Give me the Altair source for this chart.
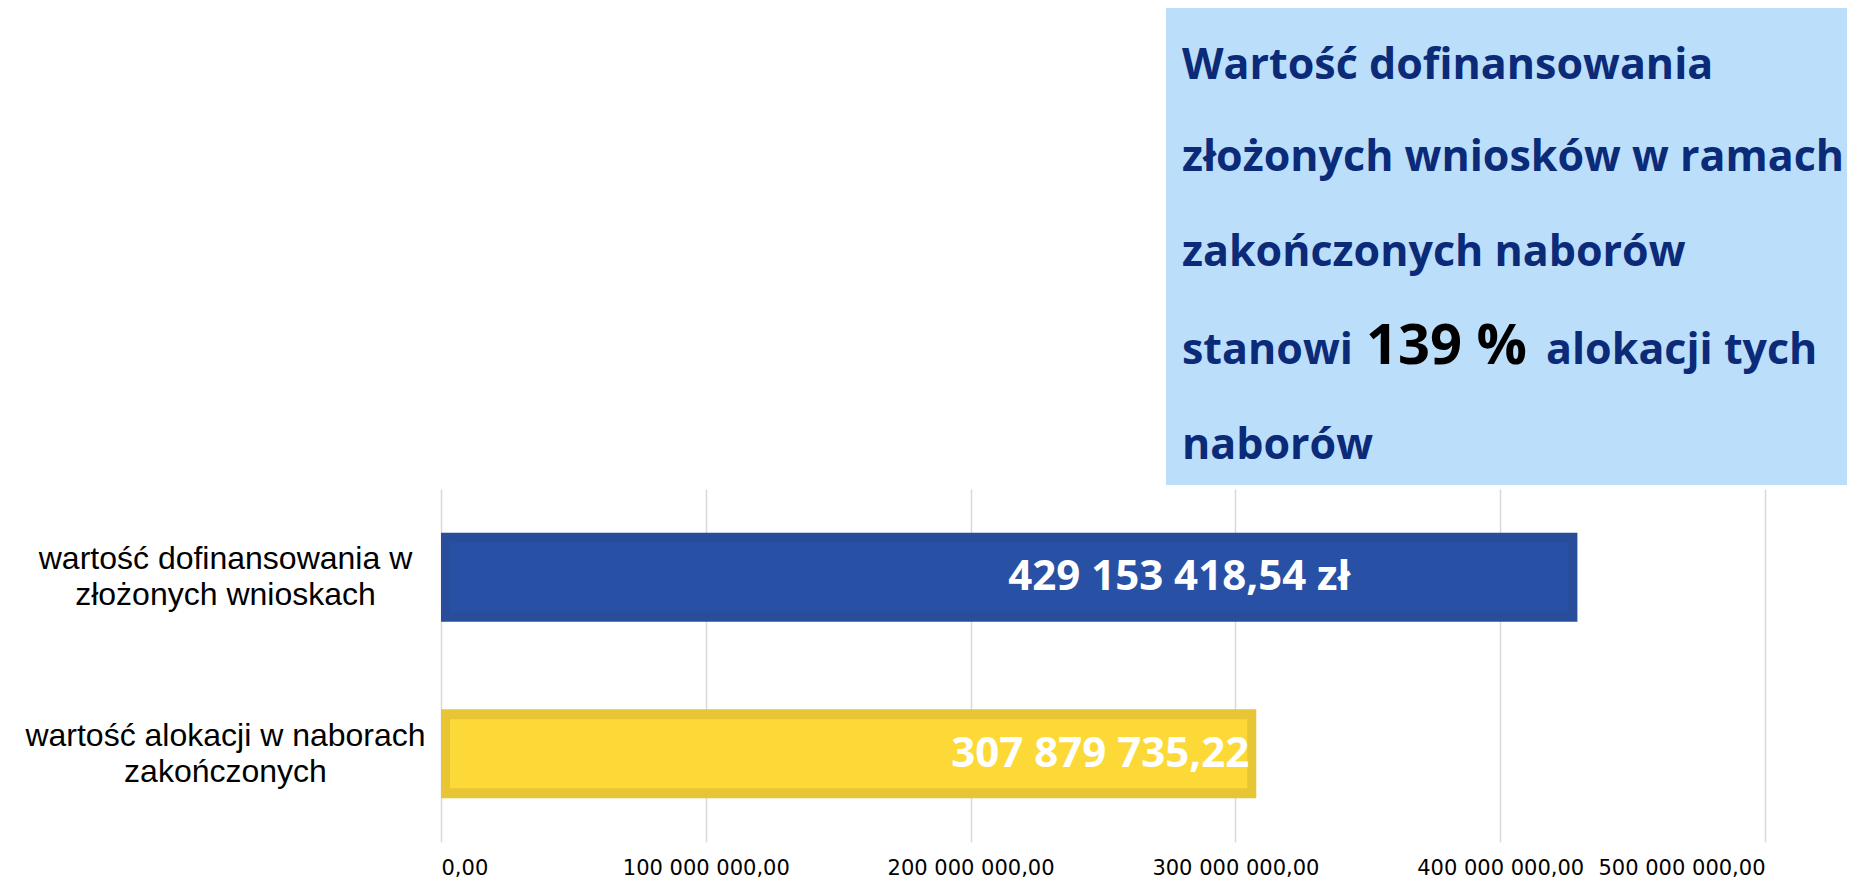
import altair as alt
import pandas as pd

categories = ["wartość dofinansowania w|złożonych wnioskach", "wartość alokacji w naborach|zakończonych"]
values = [429153418.54, 307879735.22]
bar_labels = ["429 153 418,54 zł", "307 879 735,22"]
series = ["dofinansowanie", "alokacja"]
tick_values = [0, 100000000, 200000000, 300000000, 400000000, 500000000]

df = pd.DataFrame({"cat": categories, "value": values, "label": bar_labels, "series": series})

NAVY = "#0B2A78"

base = alt.Chart(df)

y_enc = alt.Y("cat:N", sort=categories, title=None,
              scale=alt.Scale(paddingInner=0.495, paddingOuter=0.2475),
              axis=alt.Axis(labelExpr="split(datum.label, '|')", labelAlign="center",
                            labelPadding=216, labelLimit=600, labelFont="Liberation Sans",
                            labelFontSize=32, labelLineHeight=36, labelOffset=-18,
                            labelColor="#000000",
                            ticks=False, domain=False, grid=False))

x_enc = alt.X("value:Q", title=None,
              scale=alt.Scale(domain=[0, 500000000], nice=False),
              axis=alt.Axis(values=tick_values, grid=True, gridColor="#D9D9D9", gridWidth=1.5,
                            domain=False, ticks=False, labelPadding=15,
                            labelFont="DejaVu Sans", labelFontSize=21, labelColor="#000000",
                            labelExpr="replace(replace(format(datum.value, ',.2f'), regexp(',', 'g'), ' '), '.', ',')"))

outer = base.mark_bar().encode(
    x=x_enc,
    y=y_enc,
    color=alt.Color("series:N", scale=alt.Scale(domain=series, range=["#284D9B", "#E7C534"]), legend=None),
)

inner = base.mark_bar(size=69, xOffset=-9, x2Offset=9).encode(
    x=alt.X("value:Q"),
    x2=alt.X2(datum=0),
    y=alt.Y("cat:N", sort=categories),
    fill=alt.Fill("series:N", scale=alt.Scale(domain=series, range=["#2851A6", "#FDD938"]), legend=None),
)

lab_blue = base.transform_filter(alt.datum.series == "dofinansowanie").mark_text(
    align="right", baseline="middle", dx=-227, font="Open Sans", fontWeight="bold",
    fontSize=42, color="#FFFFFF").encode(x="value:Q", y=alt.Y("cat:N", sort=categories), text="label:N")

lab_yellow = base.transform_filter(alt.datum.series == "alokacja").mark_text(
    align="right", baseline="middle", dx=-7, font="Open Sans", fontWeight="bold",
    fontSize=42, color="#FFFFFF").encode(x="value:Q", y=alt.Y("cat:N", sort=categories), text="label:N")

box = alt.Chart(pd.DataFrame({"a": [0]})).mark_rect(color="#BBDEFB").encode(
    x=alt.value(725), x2=alt.value(1430), y=alt.value(-485), y2=alt.value(-4))

def line(txt, x, y, size=43, color=NAVY):
    return alt.Chart(pd.DataFrame({"a": [0]})).mark_text(
        text=txt, align="left", baseline="alphabetic", font="Open Sans", fontWeight="bold",
        fontSize=size, color=color).encode(x=alt.value(x), y=alt.value(y))

texts = [
    line("Wartość dofinansowania", 741, -410),
    line("złożonych wniosków w ramach", 741, -318),
    line("zakończonych naborów", 741, -223),
    line("stanowi", 741, -125),
    line("139 %", 925, -125, size=56, color="#000000"),
    line("alokacji tych", 1105, -125),
    line("naborów", 741, -30),
]

chart = alt.layer(outer, inner, lab_blue, lab_yellow, box, *texts).resolve_scale(
    color="independent", fill="independent"
).properties(
    width=1324, height=353,
    padding={"left": 433, "top": 481, "right": 82, "bottom": 38},
    autosize=alt.AutoSizeParams(type="none"),
).configure_view(stroke=None)

chart.save("out.html", embed_options={"renderer": "svg", "actions": False})
